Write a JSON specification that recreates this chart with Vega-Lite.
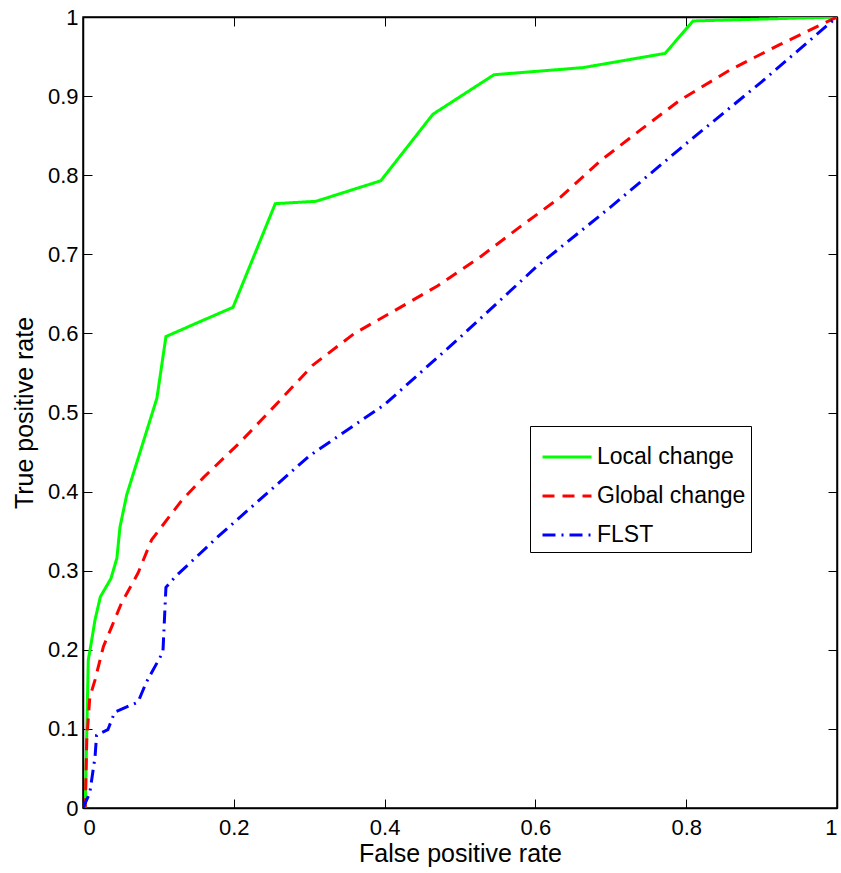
{
  "$schema": "https://vega.github.io/schema/vega-lite/v6.json",
  "width": 754,
  "height": 791,
  "autosize": "none",
  "padding": {"left": 83, "top": 17, "right": 4, "bottom": 65},
  "config": {
    "font": "Liberation Sans",
    "view": {"stroke": "black", "strokeWidth": 1.5},
    "axis": {
      "domainColor": "black",
      "domainWidth": 1.5,
      "tickColor": "black",
      "tickWidth": 1,
      "tickSize": -9,
      "labelFontSize": 22,
      "labelColor": "black",
      "titleFontSize": 25,
      "titleColor": "black",
      "titleFontWeight": "normal",
      "grid": false
    }
  },
  "data": {
    "values": [
      {"series": "Local change", "o": 0, "fpr": 0.0, "tpr": 0.0},
      {"series": "Local change", "o": 1, "fpr": 0.003, "tpr": 0.0},
      {"series": "Local change", "o": 2, "fpr": 0.005, "tpr": 0.095},
      {"series": "Local change", "o": 3, "fpr": 0.007, "tpr": 0.187},
      {"series": "Local change", "o": 4, "fpr": 0.0115, "tpr": 0.212},
      {"series": "Local change", "o": 5, "fpr": 0.016, "tpr": 0.238},
      {"series": "Local change", "o": 6, "fpr": 0.023, "tpr": 0.267},
      {"series": "Local change", "o": 7, "fpr": 0.037, "tpr": 0.29},
      {"series": "Local change", "o": 8, "fpr": 0.045, "tpr": 0.316},
      {"series": "Local change", "o": 9, "fpr": 0.049, "tpr": 0.355},
      {"series": "Local change", "o": 10, "fpr": 0.058, "tpr": 0.396},
      {"series": "Local change", "o": 11, "fpr": 0.098, "tpr": 0.518},
      {"series": "Local change", "o": 12, "fpr": 0.11, "tpr": 0.596},
      {"series": "Local change", "o": 13, "fpr": 0.153, "tpr": 0.614},
      {"series": "Local change", "o": 14, "fpr": 0.199, "tpr": 0.633},
      {"series": "Local change", "o": 15, "fpr": 0.255, "tpr": 0.764},
      {"series": "Local change", "o": 16, "fpr": 0.309, "tpr": 0.767},
      {"series": "Local change", "o": 17, "fpr": 0.395, "tpr": 0.793},
      {"series": "Local change", "o": 18, "fpr": 0.464, "tpr": 0.877},
      {"series": "Local change", "o": 19, "fpr": 0.545, "tpr": 0.927},
      {"series": "Local change", "o": 20, "fpr": 0.663, "tpr": 0.936},
      {"series": "Local change", "o": 21, "fpr": 0.772, "tpr": 0.954},
      {"series": "Local change", "o": 22, "fpr": 0.809, "tpr": 0.995},
      {"series": "Local change", "o": 23, "fpr": 1.0, "tpr": 1.0},
      {"series": "Global change", "o": 0, "fpr": 0.0, "tpr": 0.0},
      {"series": "Global change", "o": 1, "fpr": 0.003, "tpr": 0.0},
      {"series": "Global change", "o": 2, "fpr": 0.005, "tpr": 0.086},
      {"series": "Global change", "o": 3, "fpr": 0.009, "tpr": 0.14},
      {"series": "Global change", "o": 4, "fpr": 0.016, "tpr": 0.162},
      {"series": "Global change", "o": 5, "fpr": 0.027, "tpr": 0.204},
      {"series": "Global change", "o": 6, "fpr": 0.038, "tpr": 0.229},
      {"series": "Global change", "o": 7, "fpr": 0.051, "tpr": 0.259},
      {"series": "Global change", "o": 8, "fpr": 0.073, "tpr": 0.297},
      {"series": "Global change", "o": 9, "fpr": 0.091, "tpr": 0.339},
      {"series": "Global change", "o": 10, "fpr": 0.131, "tpr": 0.389},
      {"series": "Global change", "o": 11, "fpr": 0.16, "tpr": 0.418},
      {"series": "Global change", "o": 12, "fpr": 0.208, "tpr": 0.462},
      {"series": "Global change", "o": 13, "fpr": 0.255, "tpr": 0.509},
      {"series": "Global change", "o": 14, "fpr": 0.305, "tpr": 0.56},
      {"series": "Global change", "o": 15, "fpr": 0.36, "tpr": 0.6},
      {"series": "Global change", "o": 16, "fpr": 0.41, "tpr": 0.627},
      {"series": "Global change", "o": 17, "fpr": 0.47, "tpr": 0.66},
      {"series": "Global change", "o": 18, "fpr": 0.526, "tpr": 0.696},
      {"series": "Global change", "o": 19, "fpr": 0.58, "tpr": 0.735},
      {"series": "Global change", "o": 20, "fpr": 0.633, "tpr": 0.772},
      {"series": "Global change", "o": 21, "fpr": 0.686, "tpr": 0.818},
      {"series": "Global change", "o": 22, "fpr": 0.739, "tpr": 0.857},
      {"series": "Global change", "o": 23, "fpr": 0.792, "tpr": 0.895},
      {"series": "Global change", "o": 24, "fpr": 0.858, "tpr": 0.933},
      {"series": "Global change", "o": 25, "fpr": 0.924, "tpr": 0.965},
      {"series": "Global change", "o": 26, "fpr": 1.0, "tpr": 1.0},
      {"series": "FLST", "o": 0, "fpr": 0.0, "tpr": 0.0},
      {"series": "FLST", "o": 1, "fpr": 0.009, "tpr": 0.019},
      {"series": "FLST", "o": 2, "fpr": 0.016, "tpr": 0.065},
      {"series": "FLST", "o": 3, "fpr": 0.018, "tpr": 0.092},
      {"series": "FLST", "o": 4, "fpr": 0.033, "tpr": 0.099},
      {"series": "FLST", "o": 5, "fpr": 0.042, "tpr": 0.121},
      {"series": "FLST", "o": 6, "fpr": 0.073, "tpr": 0.134},
      {"series": "FLST", "o": 7, "fpr": 0.084, "tpr": 0.159},
      {"series": "FLST", "o": 8, "fpr": 0.106, "tpr": 0.197},
      {"series": "FLST", "o": 9, "fpr": 0.11, "tpr": 0.279},
      {"series": "FLST", "o": 10, "fpr": 0.122, "tpr": 0.292},
      {"series": "FLST", "o": 11, "fpr": 0.179, "tpr": 0.343},
      {"series": "FLST", "o": 12, "fpr": 0.3, "tpr": 0.445},
      {"series": "FLST", "o": 13, "fpr": 0.4, "tpr": 0.51},
      {"series": "FLST", "o": 14, "fpr": 0.5, "tpr": 0.595},
      {"series": "FLST", "o": 15, "fpr": 0.6, "tpr": 0.683},
      {"series": "FLST", "o": 16, "fpr": 0.7, "tpr": 0.76},
      {"series": "FLST", "o": 17, "fpr": 0.8, "tpr": 0.84},
      {"series": "FLST", "o": 18, "fpr": 0.9, "tpr": 0.918},
      {"series": "FLST", "o": 19, "fpr": 1.0, "tpr": 1.0}
    ]
  },
  "layer": [
    {
      "mark": {"type": "line", "strokeWidth": 3, "clip": true},
      "encoding": {
        "x": {
          "field": "fpr", "type": "quantitative",
          "scale": {"domain": [0, 1], "nice": false, "zero": false},
          "axis": {"orient": "bottom", "values": [0, 0.2, 0.4, 0.6, 0.8, 1], "title": "False positive rate", "labelPadding": 18, "titlePadding": 3, "format": "~g"}
        },
        "y": {
          "field": "tpr", "type": "quantitative",
          "scale": {"domain": [0, 1], "nice": false, "zero": false},
          "axis": {"orient": "left", "values": [0, 0.1, 0.2, 0.3, 0.4, 0.5, 0.6, 0.7, 0.8, 0.9, 1], "title": "True positive rate", "labelPadding": 14, "titlePadding": 10, "format": "~g"}
        },
        "order": {"field": "o", "type": "quantitative"},
        "color": {
          "field": "series", "type": "nominal",
          "scale": {"domain": ["Local change", "Global change", "FLST"], "range": ["#00ff00", "#ff0000", "#0000ff"]},
          "legend": {
            "title": null, "orient": "none", "legendX": 447, "legendY": 409,
            "symbolType": "stroke", "symbolSize": 2400, "symbolStrokeWidth": 3,
            "labelFontSize": 23, "labelColor": "black", "strokeColor": "black",
            "padding": 5, "rowPadding": 1, "labelOffset": 4, "symbolOffset": 6, "fillColor": "white", "labelLimit": 300
          }
        },
        "strokeDash": {
          "field": "series", "type": "nominal",
          "scale": {"domain": ["Local change", "Global change", "FLST"], "range": [[1, 0], [12, 8], [13, 6, 2, 6]]},
          "legend": {
            "title": null, "orient": "none", "legendX": 447, "legendY": 409,
            "symbolType": "stroke", "symbolSize": 2400, "symbolStrokeWidth": 3,
            "labelFontSize": 23, "labelColor": "black", "strokeColor": "black",
            "padding": 5, "rowPadding": 1, "labelOffset": 4, "symbolOffset": 6, "fillColor": "white", "labelLimit": 300
          }
        }
      }
    },
    {
      "mark": {"type": "point", "opacity": 0},
      "encoding": {
        "x": {"field": "fpr", "type": "quantitative", "scale": {"domain": [0, 1], "nice": false, "zero": false}, "axis": {"orient": "top", "values": [0, 0.2, 0.4, 0.6, 0.8, 1], "labels": false, "title": null}},
        "y": {"field": "tpr", "type": "quantitative", "scale": {"domain": [0, 1], "nice": false, "zero": false}, "axis": {"orient": "right", "values": [0, 0.1, 0.2, 0.3, 0.4, 0.5, 0.6, 0.7, 0.8, 0.9, 1], "labels": false, "title": null}}
      }
    }
  ],
  "resolve": {"axis": {"x": "independent", "y": "independent"}}
}
